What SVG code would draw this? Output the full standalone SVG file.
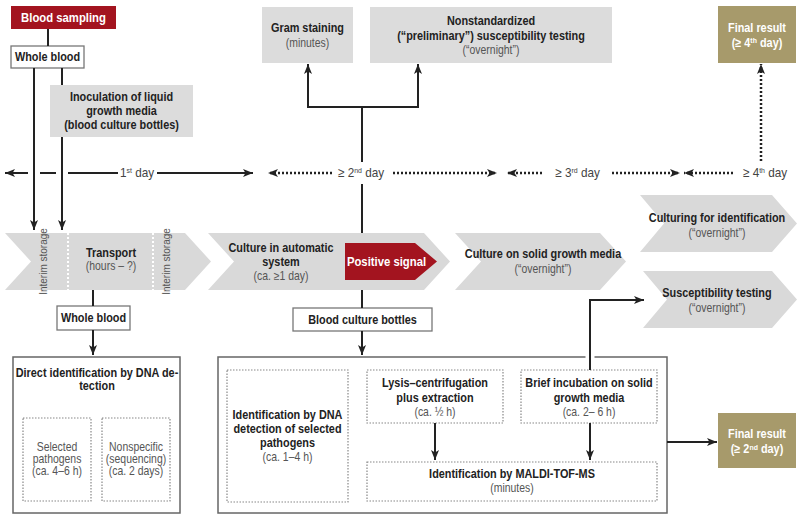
<svg xmlns="http://www.w3.org/2000/svg" width="800" height="519" viewBox="0 0 800 519">
<defs>
<style>
text{font-family:"Liberation Sans",Arial,sans-serif;}
.b,.r,.w,.t{transform-box:fill-box;transform-origin:center;transform:scaleX(0.87);text-anchor:middle;}
.b{font-size:12.5px;font-weight:bold;fill:#222;}
.r{font-size:12px;fill:#555;}
.w{font-size:13px;font-weight:bold;fill:#fff;}
.w.s{font-size:12.5px;}
.t{font-size:13.5px;fill:#444;}
.vt{font-size:10px;fill:#555;text-anchor:middle;}
.sup{font-size:8px;}
.grey{fill:#dcdcdc;}
.chev{fill:#d9d9d9;}
.red{fill:#a3141f;}
.olive{fill:#a79a6b;}
.wbox{fill:#fff;stroke:#777;stroke-width:1.3;}
.big{fill:none;stroke:#666;stroke-width:1.5;}
.dot{fill:none;stroke:#888;stroke-width:1.2;stroke-dasharray:1.5 1.5;}
.ln{fill:none;stroke:#222;stroke-width:2;}
.dl{fill:none;stroke:#222;stroke-width:2.5;stroke-dasharray:2 2;}
.wd{stroke:#fff;stroke-width:2;stroke-dasharray:2 2;}
</style>
<marker id="ah" viewBox="0 0 10 8" refX="10" refY="4" markerWidth="10" markerHeight="8" orient="auto-start-reverse" markerUnits="userSpaceOnUse">
<path d="M0,0 L10,4 L0,8 L2.5,4 Z" fill="#222"/>
</marker>
</defs>
<rect width="800" height="519" fill="#fff"/>

<g id="blood-sampling"><rect class="red" x="11" y="6" width="105" height="23"/><text class="w" x="63.5" y="22">Blood sampling</text></g>
<g id="whole-blood-top"><rect class="wbox" x="11" y="46" width="73" height="22"/><text class="b" x="47.5" y="61.5">Whole blood</text></g>
<g id="inoculation"><rect class="grey" x="50" y="85" width="143" height="52"/>
<text class="b" x="121.5" y="101.5">Inoculation of liquid</text><text class="b" x="121.5" y="115.5">growth media</text><text class="b" x="121.5" y="129.5">(blood culture bottles)</text></g>
<g id="gram"><rect class="grey" x="262" y="7" width="91" height="56"/><text class="b" x="307.5" y="32">Gram staining</text><text class="r" x="307.5" y="47">(minutes)</text></g>
<g id="nonstandardized"><rect class="grey" x="370" y="7" width="242" height="56"/>
<text class="b" x="491" y="25">Nonstandardized</text><text class="b" x="491" y="40">(“preliminary”) susceptibility testing</text><text class="r" x="491" y="54.5">(“overnight”)</text></g>
<g id="final-4"><rect class="olive" x="718" y="6" width="78" height="57"/>
<text class="w s" x="757" y="32">Final result</text><text class="w s" x="757" y="47.5">(≥ 4<tspan class="sup" dy="-4">th</tspan><tspan dy="4"> day)</tspan></text></g>

<g id="chevron-transport"><path class="chev" d="M5,233 L185,233 L211,261.5 L185,290 L5,290 L31,261.5 Z"/>
<line class="wd" x1="68" y1="233" x2="68" y2="290"/><line class="wd" x1="153" y1="233" x2="153" y2="290"/>
<text class="vt" transform="translate(47,261.5) rotate(-90)">Interim storage</text>
<text class="vt" transform="translate(170,261.5) rotate(-90)">Interim storage</text>
<text class="b" x="111" y="257.5">Transport</text><text class="r" x="111" y="270.5">(hours – ?)</text></g>
<g id="chevron-culture"><path class="chev" d="M208,233 L424,233 L450,261.5 L424,290 L208,290 L234,261.5 Z"/>
<text class="b" x="281" y="252">Culture in automatic</text><text class="b" x="281" y="266">system</text><text class="r" x="281" y="280">(ca. ≥1 day)</text></g>
<g id="positive-signal"><path class="red" d="M345,243 L415,243 L437,261.5 L415,280 L345,280 Z"/><text class="w" x="386.5" y="266.5">Positive signal</text></g>
<g id="chevron-solid"><path class="chev" d="M455,233 L600,233 L626,261.5 L600,290 L455,290 L481,261.5 Z"/>
<text class="b" x="543" y="258">Culture on solid growth media</text><text class="r" x="543" y="273">(“overnight”)</text></g>
<g id="chevron-culturing"><path class="chev" d="M640,195 L772,195 L797,223.5 L772,252 L640,252 L664,223.5 Z"/>
<text class="b" x="717" y="222">Culturing for identification</text><text class="r" x="717" y="237">(“overnight”)</text></g>
<g id="chevron-susceptibility"><path class="chev" d="M643,271 L772,271 L797,299.5 L772,328 L643,328 L667,299.5 Z"/>
<text class="b" x="717" y="297">Susceptibility testing</text><text class="r" x="717" y="312">(“overnight”)</text></g>

<g id="whole-blood-low"><rect class="wbox" x="57" y="306" width="73" height="24"/><text class="b" x="93.5" y="322.5">Whole blood</text></g>
<g id="blood-culture-bottles"><rect class="wbox" x="293" y="308" width="139" height="23"/><text class="b" x="362.5" y="324">Blood culture bottles</text></g>

<g id="direct-id"><rect class="big" x="13" y="357" width="167" height="156"/>
<text class="b" x="97" y="377">Direct identification by DNA de-</text><text class="b" x="97" y="390.5">tection</text>
<rect class="dot" x="23" y="418" width="68" height="83"/>
<text class="r" x="57" y="451">Selected</text><text class="r" x="57" y="463">pathogens</text><text class="r" x="57" y="475">(ca. 4–6 h)</text>
<rect class="dot" x="102" y="418" width="68" height="83"/>
<text class="r" x="136" y="451">Nonspecific</text><text class="r" x="136" y="463">(sequencing)</text><text class="r" x="136" y="475">(ca. 2 days)</text></g>

<g id="bottle-methods"><rect class="big" x="218" y="357" width="449" height="156"/>
<rect class="dot" x="227" y="370" width="121" height="132"/>
<text class="b" x="287.5" y="419">Identification by DNA</text><text class="b" x="287.5" y="433">detection of selected</text><text class="b" x="287.5" y="447">pathogens</text><text class="r" x="287.5" y="461">(ca. 1–4 h)</text>
<rect class="dot" x="367" y="370" width="136" height="53"/>
<text class="b" x="435" y="387">Lysis–centrifugation</text><text class="b" x="435" y="402">plus extraction</text><text class="r" x="435" y="416">(ca. ½ h)</text>
<rect class="dot" x="521" y="370" width="136" height="53"/>
<text class="b" x="589" y="387">Brief incubation on solid</text><text class="b" x="589" y="402">growth media</text><text class="r" x="589" y="416">(ca. 2– 6 h)</text>
<rect class="dot" x="367" y="462" width="290" height="39"/>
<text class="b" x="512" y="478">Identification by MALDI-TOF-MS</text><text class="r" x="512" y="492">(minutes)</text></g>

<g id="final-2"><rect class="olive" x="718" y="413" width="78" height="55"/>
<text class="w s" x="757" y="438">Final result</text><text class="w s" x="757" y="453.5">(≥ 2<tspan class="sup" dy="-4">nd</tspan><tspan dy="4"> day)</tspan></text></g>

<g id="timeline">
<text class="t" x="137" y="177.5">1<tspan class="sup" dy="-4">st</tspan><tspan dy="4"> day</tspan></text>
<text class="t" x="361" y="177.5">≥ 2<tspan class="sup" dy="-4">nd</tspan><tspan dy="4"> day</tspan></text>
<text class="t" x="577.5" y="177.5">≥ 3<tspan class="sup" dy="-4">rd</tspan><tspan dy="4"> day</tspan></text>
<text class="t" x="765" y="177.5">≥ 4<tspan class="sup" dy="-4">th</tspan><tspan dy="4"> day</tspan></text>
</g>

<g id="connectors">
<line class="ln" x1="48" y1="29" x2="48" y2="46"/>
<line class="ln" x1="34" y1="68" x2="34" y2="230" marker-end="url(#ah)"/>
<line class="ln" x1="62" y1="68" x2="62" y2="85"/>
<line class="ln" x1="62" y1="137" x2="62" y2="230" marker-end="url(#ah)"/>
<line class="ln" x1="28" y1="173" x2="5" y2="173" marker-end="url(#ah)"/>
<line class="ln" x1="40" y1="173" x2="56" y2="173"/>
<line class="ln" x1="68" y1="173" x2="118" y2="173"/>
<line class="ln" x1="157" y1="173" x2="253" y2="173" marker-end="url(#ah)"/>
<line class="dl" x1="332" y1="173" x2="268" y2="173" marker-end="url(#ah)"/>
<line class="dl" x1="393" y1="173" x2="497" y2="173" marker-end="url(#ah)"/>
<line class="dl" x1="542" y1="173" x2="507" y2="173" marker-end="url(#ah)"/>
<line class="dl" x1="612" y1="173" x2="680" y2="173" marker-end="url(#ah)"/>
<line class="dl" x1="733" y1="173" x2="684" y2="173" marker-end="url(#ah)"/>
<line class="dl" x1="761" y1="161" x2="761" y2="64" marker-end="url(#ah)"/>
<polyline class="ln" points="308,64 308,107 418,107 418,64" marker-start="url(#ah)" marker-end="url(#ah)"/>
<line class="ln" x1="362" y1="107" x2="362" y2="162"/>
<line class="ln" x1="362" y1="184" x2="362" y2="233"/>
<line class="ln" x1="362" y1="290" x2="362" y2="308"/>
<line class="ln" x1="362" y1="331" x2="362" y2="355" marker-end="url(#ah)"/>
<line class="ln" x1="93" y1="290" x2="93" y2="306"/>
<line class="ln" x1="93" y1="330" x2="93" y2="355" marker-end="url(#ah)"/>
<line x1="590" y1="353" x2="590" y2="361" stroke="#fff" stroke-width="9"/>
<polyline class="ln" points="590,370 590,300 644,300" marker-end="url(#ah)"/>
<line class="ln" x1="435" y1="423" x2="435" y2="460" marker-end="url(#ah)"/>
<line class="ln" x1="590" y1="423" x2="590" y2="460" marker-end="url(#ah)"/>
<line class="ln" x1="667" y1="442" x2="717" y2="442" marker-end="url(#ah)"/>
</g>
</svg>
